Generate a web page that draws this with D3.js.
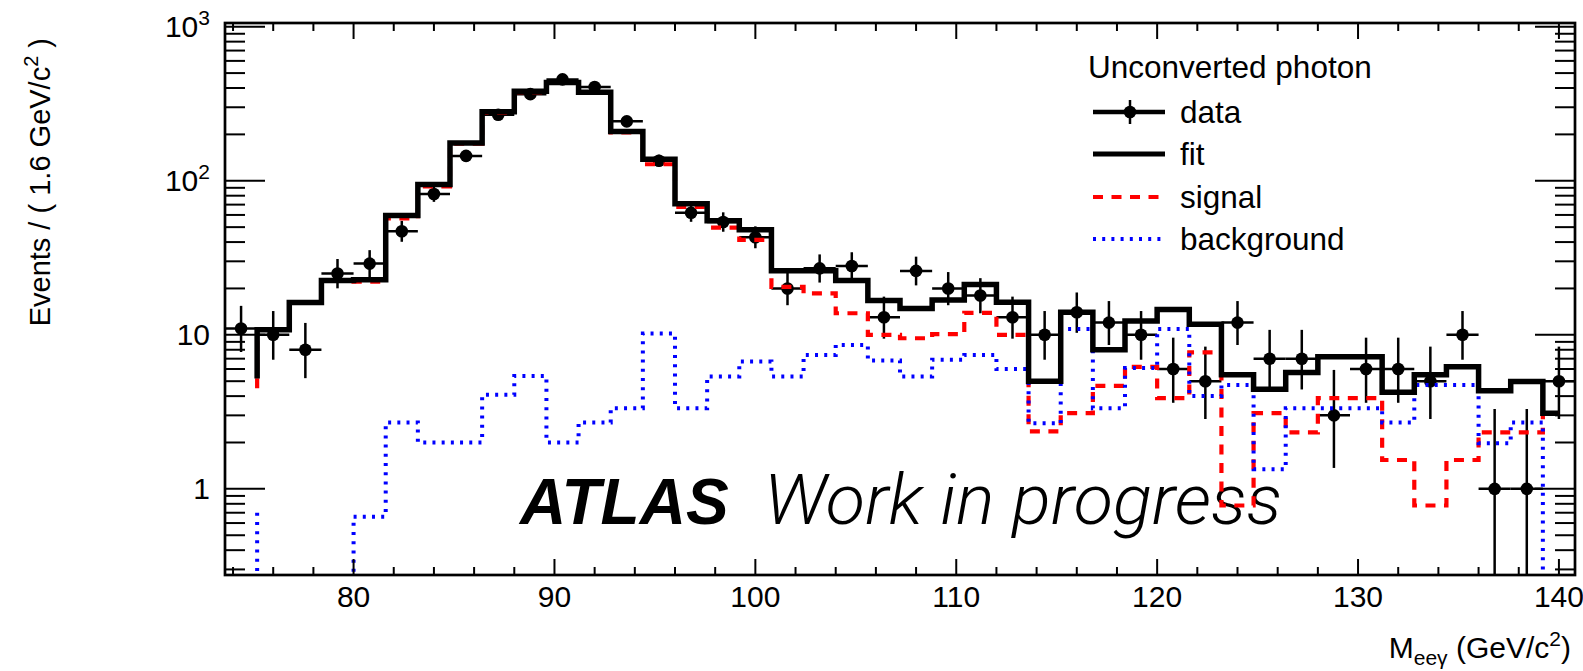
<!DOCTYPE html>
<html>
<head>
<meta charset="utf-8">
<script src="https://cdn.jsdelivr.net/npm/d3@7"></script>
<style>
  html, body { margin: 0; padding: 0; background: #fff; }
  svg { display: block; font-family: "Liberation Sans", Arial, Helvetica, sans-serif; }
</style>
</head>
<body>
<svg id="chart" width="1583" height="671"></svg>
<script>
// Binning of the M_eeγ histogram (GeV/c^2)
const binLow = 73.6;
const binWidth = 1.6;

// Observed events per bin
const dataCounts = [11, 10, 8, 25, 29, 47, 82, 145, 268, 365, 455, 406, 243, 135, 62, 54, 43, 20, 27, 28, 13,
                    26, 20, 18, 13, 10, 14, 12, 10, 6, 5, 12, 7, 7, 3, 6, 6, 5, 10, 1, 1, 5];

// Fitted model (total), per bin
const fitValues = [5.2, 10.8, 16.2, 22.5, 22.8, 59.6, 94.4, 176, 281, 381, 434, 376, 209, 138, 70.9, 55.0, 48.0,
                   26.1, 26.1, 22.5, 16.7, 14.8, 16.8, 21.2, 16.3, 5.0, 14.0, 8.0, 12.3, 14.6, 11.7, 5.5, 4.44,
                   5.7, 7.2, 7.2, 4.24, 5.5, 6.2, 4.33, 4.97, 3.1];

// Signal component, per bin
const signalValues = [4.5, 10.8, 16.2, 22.5, 22.1, 57, 92, 174, 277, 376, 432, 373, 206, 128, 67.6, 49.6, 41.3,
                      20.5, 18.6, 13.8, 10.0, 9.5, 10.1, 13.9, 10.0, 2.36, 3.1, 4.66, 6.2, 3.88, 7.7, 0.78, 3.1,
                      2.33, 3.88, 3.88, 1.54, 0.78, 1.54, 2.33, 2.33, 3.1];

// Background component, per bin
const backgroundValues = [0.7, 0, 0, 0, 0.66, 2.7, 2.0, 2.0, 4.08, 5.4, 2.0, 2.7, 3.34, 10.2, 3.34, 5.37, 6.7,
                          5.37, 7.4, 8.6, 6.8, 5.37, 6.9, 7.4, 6.0, 2.67, 10.9, 3.34, 6.08, 10.9, 4.0, 4.73, 1.34,
                          3.34, 3.34, 3.34, 2.7, 4.73, 4.73, 1.98, 2.7, 0];

// Range over which the model curves are drawn
const curveRange = [75.2, 140.0];

// Axis ranges and ticks
const xDomain = [73.6, 140.8];
const yDomain = [0.276, 1057];
const xMajorTicks = [80, 90, 100, 110, 120, 130, 140];
const yMajorTicks = [1, 10, 100, 1000];
const yTickLabels = [["1", ""], ["10", ""], ["10", "2"], ["10", "3"]];

const legendTitle = "Unconverted photon";
const legendLabels = ["data", "fit", "signal", "background"];

// ---------------------------------------------------------------------------
const svg = d3.select("#chart");
const W = 1583, H = 671;
const plot = { left: 225, right: 1575, top: 23, bottom: 575 };

svg.append("rect").attr("width", W).attr("height", H).attr("fill", "#fff");

const x = d3.scaleLinear().domain(xDomain).range([plot.left, plot.right]);
const y = d3.scaleLog().domain(yDomain).range([plot.bottom, plot.top]);

svg.append("defs").append("clipPath").attr("id", "plotClip")
  .append("rect")
  .attr("x", plot.left).attr("y", plot.top)
  .attr("width", plot.right - plot.left).attr("height", plot.bottom - plot.top);

const binEdge = i => binLow + i * binWidth;
const binCenter = i => binLow + (i + 0.5) * binWidth;
const yFloor = yDomain[0] * 0.2;
const ySafe = v => y(Math.max(v, yFloor));

// Poisson 68.27% central interval (Garwood) for an observed count
function poissonCdf(n, mu) {
  if (n < 0) return 0;
  let term = Math.exp(-mu), sum = term;
  for (let k = 1; k <= n; k++) { term *= mu / k; sum += term; }
  return sum;
}
function bisect(f, lo, hi) {
  for (let i = 0; i < 200; i++) {
    const mid = 0.5 * (lo + hi);
    if (f(mid) > 0) lo = mid; else hi = mid;
  }
  return 0.5 * (lo + hi);
}
const alpha = 0.158655;
function poissonInterval(n) {
  const upper = bisect(mu => poissonCdf(n, mu) - alpha, n, n + 10 * Math.sqrt(n + 1) + 10);
  const lower = n === 0 ? 0 : bisect(mu => (1 - alpha) - poissonCdf(n - 1, mu) < 0 ? 1 : -1, 0, n);
  return [lower, upper];
}

// ---------------------------------------------------------------------------
// Watermark text (drawn underneath the curves)
const label = svg.append("g");
label.append("text")
  .attr("x", 520).attr("y", 524)
  .attr("font-size", 64).attr("font-weight", "bold").attr("font-style", "italic")
  .attr("fill", "#000")
  .text("ATLAS");
label.append("text")
  .attr("x", 764).attr("y", 524)
  .attr("font-family", "Roboto, 'Liberation Sans', sans-serif")
  .attr("font-size", 70).attr("font-weight", 300).attr("font-style", "italic")
  .attr("textLength", 518).attr("lengthAdjust", "spacingAndGlyphs")
  .attr("fill", "#000")
  .text("Work in progress");

// ---------------------------------------------------------------------------
// Data points with error bars
const dataG = svg.append("g").attr("clip-path", "url(#plotClip)");
dataCounts.forEach((n, i) => {
  const [lo, hi] = poissonInterval(n);
  const cx = x(binCenter(i)), cy = y(n);
  dataG.append("line")
    .attr("x1", x(binEdge(i))).attr("x2", x(binEdge(i + 1)))
    .attr("y1", cy).attr("y2", cy)
    .attr("stroke", "#000").attr("stroke-width", 2.5);
  dataG.append("line")
    .attr("x1", cx).attr("x2", cx)
    .attr("y1", ySafe(lo)).attr("y2", y(hi))
    .attr("stroke", "#000").attr("stroke-width", 2.5);
  dataG.append("circle")
    .attr("cx", cx).attr("cy", cy).attr("r", 6.3).attr("fill", "#000");
});

// ---------------------------------------------------------------------------
// Step curves: components first, total fit on top
function stepPoints(values) {
  const pts = [];
  const eps = 1e-9;
  values.forEach((v, i) => {
    const lo = Math.max(binEdge(i), curveRange[0]);
    const hi = Math.min(binEdge(i + 1), curveRange[1]);
    if (hi < lo - eps) return;
    pts.push([lo, v], [Math.max(hi, lo), v]);
  });
  return pts;
}
const stepLine = d3.line().x(d => x(d[0])).y(d => ySafe(d[1]));

const curves = svg.append("g").attr("clip-path", "url(#plotClip)");
curves.append("path")
  .attr("d", stepLine(stepPoints(signalValues)))
  .attr("fill", "none").attr("stroke", "#ff0000").attr("stroke-width", 4.2)
  .attr("stroke-dasharray", "10 8.5");
curves.append("path")
  .attr("d", stepLine(stepPoints(backgroundValues)))
  .attr("fill", "none").attr("stroke", "#0000ff").attr("stroke-width", 4)
  .attr("stroke-dasharray", "3 6.2");
curves.append("path")
  .attr("d", stepLine(stepPoints(fitValues)))
  .attr("fill", "none").attr("stroke", "#000").attr("stroke-width", 5.5)
  .attr("stroke-linejoin", "miter");

// ---------------------------------------------------------------------------
// Frame and ticks
const axes = svg.append("g").attr("stroke", "#000");
axes.append("rect")
  .attr("x", plot.left).attr("y", plot.top)
  .attr("width", plot.right - plot.left).attr("height", plot.bottom - plot.top)
  .attr("fill", "none").attr("stroke-width", 2.7);

// x ticks: majors every 10, minors every 2
const xMinor = d3.range(74, 141, 2).filter(v => !xMajorTicks.includes(v));
xMajorTicks.forEach(v => {
  axes.append("line").attr("x1", x(v)).attr("x2", x(v)).attr("y1", plot.bottom).attr("y2", plot.bottom - 16).attr("stroke-width", 2);
  axes.append("line").attr("x1", x(v)).attr("x2", x(v)).attr("y1", plot.top).attr("y2", plot.top + 16).attr("stroke-width", 2);
});
xMinor.forEach(v => {
  axes.append("line").attr("x1", x(v)).attr("x2", x(v)).attr("y1", plot.bottom).attr("y2", plot.bottom - 8).attr("stroke-width", 2);
  axes.append("line").attr("x1", x(v)).attr("x2", x(v)).attr("y1", plot.top).attr("y2", plot.top + 8).attr("stroke-width", 2);
});

// y ticks (log): majors at decades, minors at 2..9 × decade
const yMinor = [];
[-1, 0, 1, 2].forEach(e => d3.range(2, 10).forEach(m => {
  const v = m * Math.pow(10, e);
  if (v >= yDomain[0] && v <= yDomain[1]) yMinor.push(v);
}));
yMajorTicks.forEach(v => {
  axes.append("line").attr("x1", plot.left).attr("x2", plot.left + 40).attr("y1", y(v)).attr("y2", y(v)).attr("stroke-width", 2);
  axes.append("line").attr("x1", plot.right).attr("x2", plot.right - 40).attr("y1", y(v)).attr("y2", y(v)).attr("stroke-width", 2);
});
yMinor.forEach(v => {
  axes.append("line").attr("x1", plot.left).attr("x2", plot.left + 20).attr("y1", y(v)).attr("y2", y(v)).attr("stroke-width", 2);
  axes.append("line").attr("x1", plot.right).attr("x2", plot.right - 20).attr("y1", y(v)).attr("y2", y(v)).attr("stroke-width", 2);
});

// Tick labels
const tickFont = 30;
xMajorTicks.forEach(v => {
  svg.append("text")
    .attr("x", x(v)).attr("y", 607)
    .attr("text-anchor", "middle").attr("font-size", tickFont)
    .text(v);
});
yMajorTicks.forEach((v, i) => {
  const [base, exp] = yTickLabels[i];
  const t = svg.append("text")
    .attr("x", 210).attr("y", y(v) + 10.5)
    .attr("text-anchor", "end").attr("font-size", tickFont);
  t.append("tspan").text(base);
  if (exp) t.append("tspan").attr("font-size", 21).attr("dy", -12).text(exp);
});

// Axis titles
const xt = svg.append("text")
  .attr("x", 1571).attr("y", 658)
  .attr("text-anchor", "end").attr("font-size", 30);
xt.append("tspan").text("M");
xt.append("tspan").attr("font-size", 21).attr("dy", 7).text("eeγ");
xt.append("tspan").attr("dy", -7).text(" (GeV/c");
xt.append("tspan").attr("font-size", 21).attr("dy", -12).text("2");
xt.append("tspan").attr("dy", 12).text(")");

const yt = svg.append("text")
  .attr("transform", "translate(50,38) rotate(-90)")
  .attr("text-anchor", "end").attr("font-size", 29);
yt.append("tspan").text("Events / ( 1.6 GeV/c");
yt.append("tspan").attr("font-size", 20).attr("dy", -12).text("2");
yt.append("tspan").attr("dy", 12).text(" )");

// ---------------------------------------------------------------------------
// Legend
const legendFont = 31.5;
const legend = svg.append("g");
legend.append("text").attr("x", 1088).attr("y", 78).attr("font-size", legendFont).text(legendTitle);
const rowY = [112, 154, 197, 239];
const lx0 = 1093, lx1 = 1165;
// data
legend.append("line").attr("x1", lx0).attr("x2", lx1).attr("y1", rowY[0]).attr("y2", rowY[0]).attr("stroke", "#000").attr("stroke-width", 4.5);
legend.append("line").attr("x1", 1130).attr("x2", 1130).attr("y1", rowY[0] - 12).attr("y2", rowY[0] + 12).attr("stroke", "#000").attr("stroke-width", 2.5);
legend.append("circle").attr("cx", 1130).attr("cy", rowY[0]).attr("r", 6.3).attr("fill", "#000");
// fit
legend.append("line").attr("x1", lx0).attr("x2", lx1).attr("y1", rowY[1]).attr("y2", rowY[1]).attr("stroke", "#000").attr("stroke-width", 5);
// signal
legend.append("line").attr("x1", lx0).attr("x2", 1160).attr("y1", rowY[2]).attr("y2", rowY[2]).attr("stroke", "#ff0000").attr("stroke-width", 4.2).attr("stroke-dasharray", "10 8.5");
// background
legend.append("line").attr("x1", lx0).attr("x2", 1162).attr("y1", rowY[3]).attr("y2", rowY[3]).attr("stroke", "#0000ff").attr("stroke-width", 4).attr("stroke-dasharray", "3 6.2");
legendLabels.forEach((s, i) => {
  legend.append("text").attr("x", 1180).attr("y", rowY[i] + 10.5).attr("font-size", legendFont).text(s);
});
</script>
</body>
</html>
